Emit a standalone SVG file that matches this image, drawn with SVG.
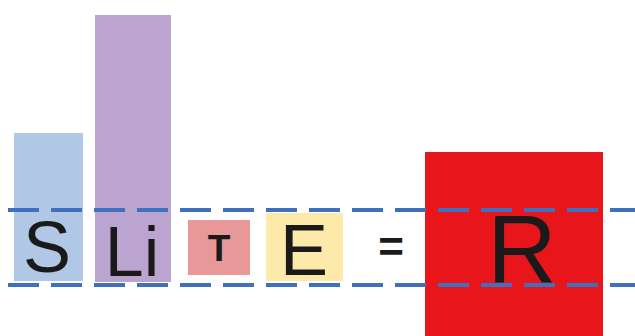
<svg xmlns="http://www.w3.org/2000/svg" width="635" height="336" viewBox="0 0 635 336">
<style>
.t{font-family:"Liberation Sans",Arial,sans-serif;fill:#1a1a1a;text-anchor:middle}
.d{stroke:#3f6fbf;stroke-width:4;stroke-dasharray:31 12;fill:none}
</style>
<rect width="635" height="336" fill="#fff"/>
<g id="S"><rect x="14" y="133" width="69" height="148" fill="#b0c8e6"/></g>
<g id="Li"><rect x="95" y="15" width="76" height="267" fill="#bba4cf"/></g>
<g id="T"><rect x="188" y="220" width="62" height="55" fill="#e89898"/></g>
<g id="E"><rect x="266" y="213" width="77" height="68" fill="#fde9a9"/></g>
<g id="R"><rect x="425" y="152" width="178" height="184" fill="#e8161b"/></g>
<g id="lines">
<line class="d" x1="8" y1="210" x2="640" y2="210"/>
<line class="d" x1="8" y1="285" x2="640" y2="285"/>
</g>
<g id="labels">
<text class="t" x="47" y="272" font-size="72">S</text>
<text class="t" x="132" y="276" font-size="70">Li</text>
<text class="t" x="219" y="261" font-size="37" font-weight="bold">T</text>
<text class="t" x="304" y="275" font-size="72">E</text>
<text class="t" x="391" y="262" font-size="44" font-weight="bold">=</text>
<text class="t" x="522" y="283" font-size="96">R</text>
</g>
</svg>
